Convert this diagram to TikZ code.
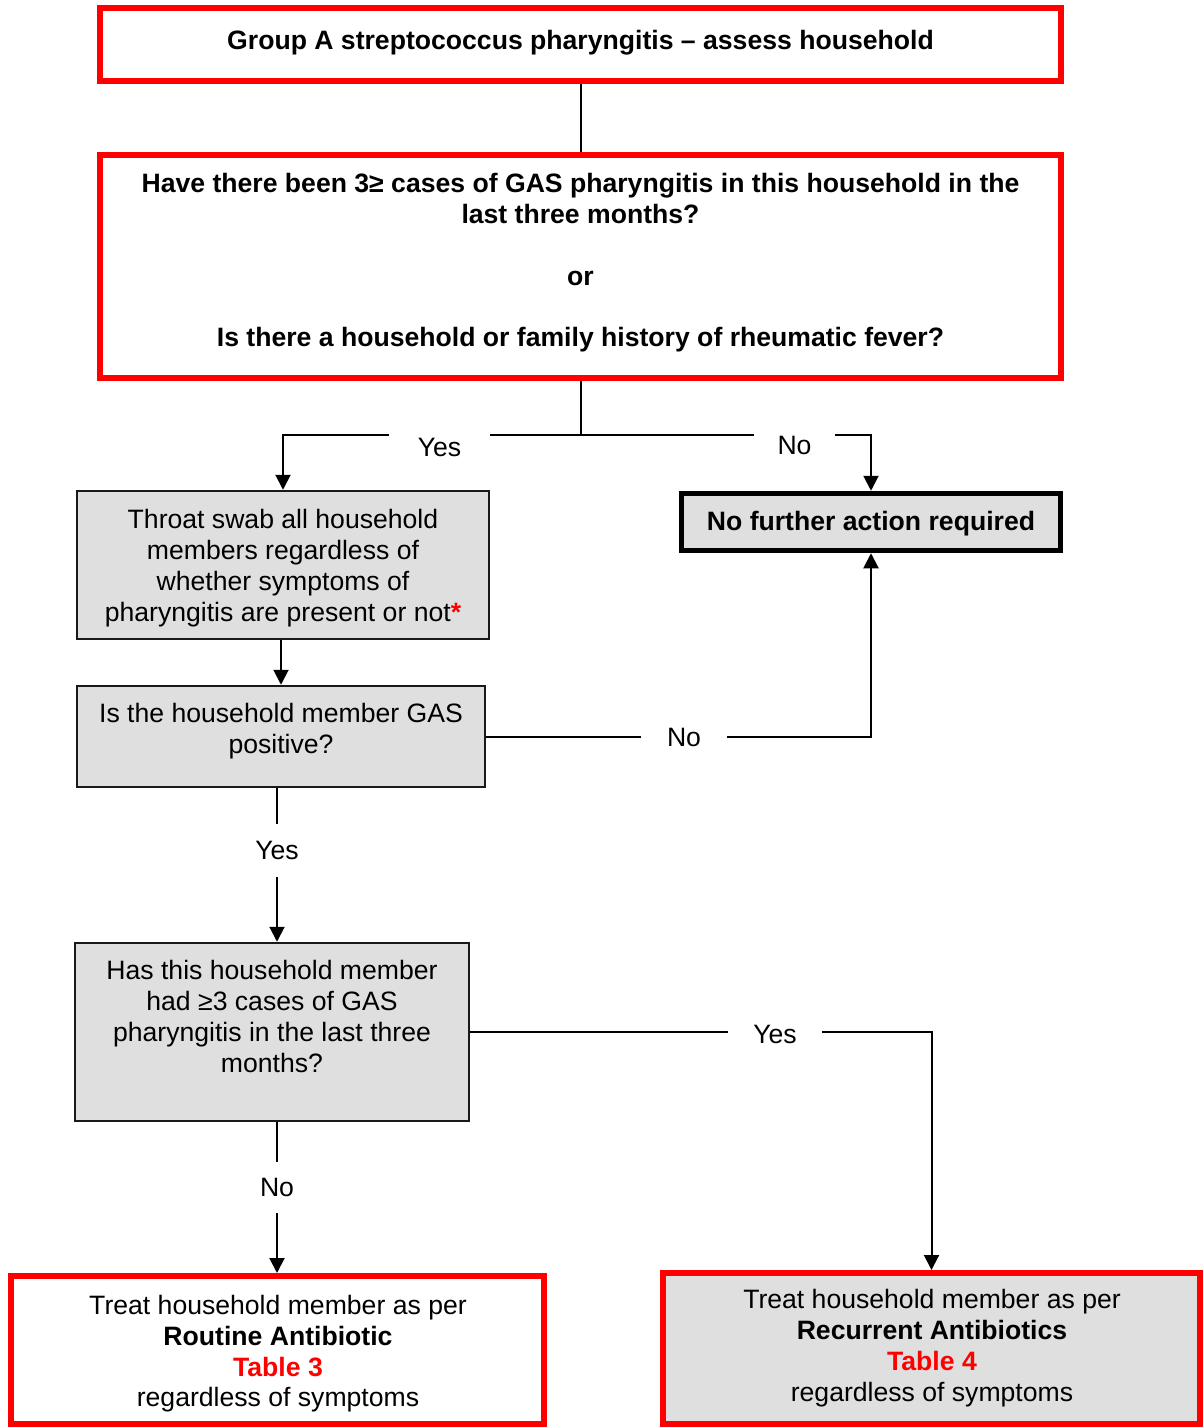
\documentclass[tikz,border=0pt]{standalone}
\usepackage{fontspec}
\setmainfont{Liberation Sans}
\usetikzlibrary{arrows.meta,calc}
\definecolor{redb}{RGB}{255,0,0}
\definecolor{grayf}{RGB}{223,223,223}
\begin{document}
\begin{tikzpicture}[x=1pt,y=-1pt,
  txt/.style={font=\fontsize{26.6}{30.8}\selectfont, inner sep=0pt, outer sep=0pt, align=center},
  redbox/.style={draw=redb, line width=6pt, rectangle, inner sep=0pt},
  greybox/.style={draw=black!90, line width=2.5pt, fill=grayf, rectangle, inner sep=0pt},
  thickbox/.style={draw=black, line width=5.5pt, fill=grayf, rectangle, inner sep=0pt},
  conn/.style={draw=black, line width=2pt},
  arr/.style={-{Triangle[length=15pt,width=15pt]}},
  mask/.style={txt, fill=white}
]
\useasboundingbox (0,0) rectangle (1203,1427);
\fill[white] (0,0) rectangle (1203,1427);

% boxes
\node[redbox, minimum width=961pt, minimum height=73pt] (b1) at (580.5,44.5) {};
\node[redbox, minimum width=961pt, minimum height=223pt] (b2) at (580.5,266.5) {};
\node[greybox, minimum width=412pt, minimum height=148pt] (b3) at (283,565) {};
\node[thickbox, minimum width=379pt, minimum height=57pt] (nf) at (871,522) {};
\node[greybox, minimum width=408pt, minimum height=101pt] (b4) at (281,736.5) {};
\node[greybox, minimum width=394pt, minimum height=178pt] (b5) at (272,1032) {};
\node[redbox, fill=white, minimum width=533pt, minimum height=148pt] (b6) at (277.5,1350) {};
\node[redbox, fill=grayf, minimum width=537pt, minimum height=151pt] (b7) at (931.5,1348.5) {};

% texts
\node[txt, font=\fontsize{26.6}{30.8}\selectfont\bfseries] (t1) at (580.5,42.8) {Group A streptococcus pharyngitis – assess household};
\node[txt, font=\fontsize{26.6}{30.8}\selectfont\bfseries] (t2) at (580.5,262.8) {Have there been 3≥ cases of GAS pharyngitis in this household in the\\ last three months?\\[30.8pt] or\\[30.8pt] Is there a household or family history of rheumatic fever?};
\node[txt] (t3) at (283,568.3) {Throat swab all household\\ members regardless of\\ whether symptoms of\\ pharyngitis are present or not\textcolor{redb}{\textbf{*}}};
\node[txt, font=\fontsize{26.6}{30.8}\selectfont\bfseries] (tnf) at (871,523.8) {No further action required};
\node[txt] (t4) at (281,730.8) {Is the household member GAS\\ positive?};
\node[txt] (t5) at (272,1016.5) {Has this household member\\ had ≥3 cases of GAS\\ pharyngitis in the last three\\ months?};
\node[txt] (t6) at (278,1353.8) {Treat household member as per\\ \textbf{Routine Antibiotic}\\ \textcolor{redb}{\textbf{Table 3}}\\ regardless of symptoms};
\node[txt] (t7) at (932,1348.3) {Treat household member as per\\ \textbf{Recurrent Antibiotics}\\ \textcolor{redb}{\textbf{Table 4}}\\ regardless of symptoms};

% label nodes
\node[txt, minimum width=86pt] (no2) at (684,737) {No};
\node[txt, minimum height=53pt] (yes2) at (277,850) {Yes};
\node[txt, minimum width=94pt] (yes3) at (775,1034.8) {Yes};
\node[txt, minimum height=51pt] (no3) at (277,1187.5) {No};

% connectors
\coordinate (j1) at (580.5,435);
\draw[conn] (b1.south) -- (b2.north);
\draw[conn] (b2.south) -- (j1);
\draw[conn,arr] (j1) -| (b3.north);
\draw[conn,arr] (j1) -| (nf.north);
\node[mask, minimum width=101pt, minimum height=40pt] (yes1) at (439.5,447.8) {Yes};
\node[mask, minimum width=81pt, minimum height=40pt] (no1) at (794.5,445) {No};

\draw[conn,arr] (b3.south -| b4.north) -- (b4.north);
\draw[conn] (b4.east) -- (b4.east -| no2.west);
\draw[conn,arr] (no2.east |- b4.east) -| (nf.south);

\draw[conn] (yes2.north |- b4.south) -- (yes2.north);
\draw[conn,arr] (yes2.south) -- (yes2.south |- b5.north);

\draw[conn] (b5.east) -- (b5.east -| yes3.west);
\draw[conn,arr] (yes3.east |- b5.east) -| (b7.north);

\draw[conn] (no3.north |- b5.south) -- (no3.north);
\draw[conn,arr] (no3.south) -- (no3.south |- b6.north);
\end{tikzpicture}
\end{document}
